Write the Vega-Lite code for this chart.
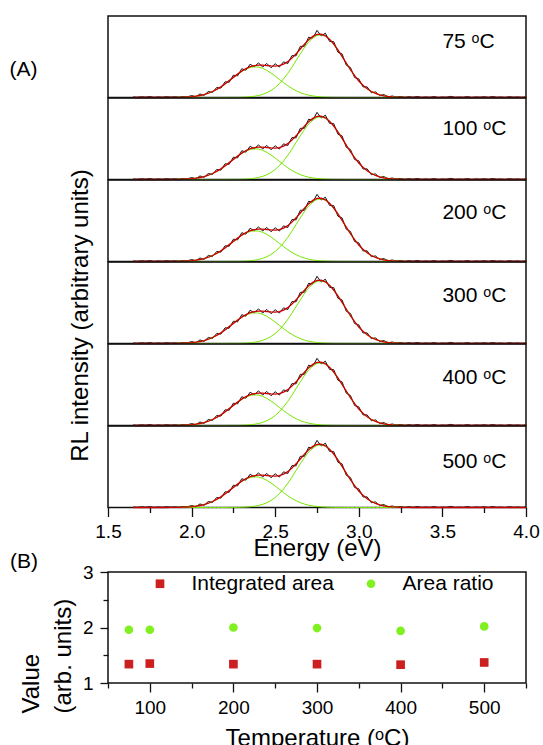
{
"$schema": "https://vega.github.io/schema/vega-lite/v6.json",
"padding": {"left": 8, "top": 15, "right": 10, "bottom": 0},
"background": "white",
"spacing": 0,
"bounds": "flush",
"resolve": {"legend": {"color": "independent", "shape": "independent"}},
"datasets": {
"spec": [
{"E":1.65,"g1":0,"g2":0,"fit":0,"obs":0.008},
{"E":1.675,"g1":0,"g2":0,"fit":0,"obs":0.004},
{"E":1.7,"g1":0,"g2":0,"fit":0,"obs":0.012},
{"E":1.725,"g1":0,"g2":0,"fit":0,"obs":0.006},
{"E":1.75,"g1":0,"g2":0,"fit":0,"obs":0.015},
{"E":1.775,"g1":0,"g2":0,"fit":0,"obs":0.003},
{"E":1.8,"g1":0,"g2":0,"fit":0,"obs":0.010},
{"E":1.825,"g1":0,"g2":0,"fit":0,"obs":0.005},
{"E":1.85,"g1":0,"g2":0,"fit":0,"obs":0.013},
{"E":1.875,"g1":0.001,"g2":0,"fit":0.001,"obs":0.007},
{"E":1.9,"g1":0.002,"g2":0,"fit":0.002,"obs":0.012},
{"E":1.925,"g1":0.003,"g2":0,"fit":0.003,"obs":0.006},
{"E":1.95,"g1":0.005,"g2":0,"fit":0.005,"obs":0.016},
{"E":1.975,"g1":0.008,"g2":0,"fit":0.008,"obs":0.011},
{"E":2.0,"g1":0.013,"g2":0,"fit":0.013,"obs":0.031},
{"E":2.025,"g1":0.021,"g2":0,"fit":0.021,"obs":0.011},
{"E":2.05,"g1":0.032,"g2":0,"fit":0.032,"obs":0.057},
{"E":2.075,"g1":0.047,"g2":0,"fit":0.047,"obs":0.035},
{"E":2.1,"g1":0.068,"g2":0,"fit":0.068,"obs":0.096},
{"E":2.125,"g1":0.096,"g2":0,"fit":0.096,"obs":0.081},
{"E":2.15,"g1":0.130,"g2":0,"fit":0.130,"obs":0.160},
{"E":2.175,"g1":0.170,"g2":0,"fit":0.170,"obs":0.150},
{"E":2.2,"g1":0.217,"g2":0,"fit":0.217,"obs":0.250},
{"E":2.225,"g1":0.268,"g2":0.001,"fit":0.269,"obs":0.244},
{"E":2.25,"g1":0.320,"g2":0.001,"fit":0.321,"obs":0.356},
{"E":2.275,"g1":0.371,"g2":0.002,"fit":0.373,"obs":0.345},
{"E":2.3,"g1":0.417,"g2":0.004,"fit":0.421,"obs":0.459},
{"E":2.325,"g1":0.454,"g2":0.007,"fit":0.461,"obs":0.436},
{"E":2.35,"g1":0.479,"g2":0.012,"fit":0.491,"obs":0.531},
{"E":2.375,"g1":0.490,"g2":0.020,"fit":0.510,"obs":0.488},
{"E":2.4,"g1":0.485,"g2":0.032,"fit":0.517,"obs":0.553},
{"E":2.425,"g1":0.466,"g2":0.050,"fit":0.516,"obs":0.486},
{"E":2.45,"g1":0.433,"g2":0.076,"fit":0.509,"obs":0.543},
{"E":2.475,"g1":0.391,"g2":0.112,"fit":0.503,"obs":0.475},
{"E":2.5,"g1":0.341,"g2":0.160,"fit":0.501,"obs":0.539},
{"E":2.525,"g1":0.289,"g2":0.221,"fit":0.510,"obs":0.486},
{"E":2.55,"g1":0.237,"g2":0.296,"fit":0.533,"obs":0.569},
{"E":2.575,"g1":0.188,"g2":0.384,"fit":0.572,"obs":0.542},
{"E":2.6,"g1":0.145,"g2":0.483,"fit":0.628,"obs":0.668},
{"E":2.625,"g1":0.108,"g2":0.589,"fit":0.697,"obs":0.665},
{"E":2.65,"g1":0.078,"g2":0.696,"fit":0.774,"obs":0.816},
{"E":2.675,"g1":0.055,"g2":0.797,"fit":0.852,"obs":0.817},
{"E":2.7,"g1":0.037,"g2":0.884,"fit":0.921,"obs":0.961},
{"E":2.725,"g1":0.025,"g2":0.950,"fit":0.975,"obs":0.945},
{"E":2.75,"g1":0.016,"g2":0.990,"fit":1.006,"obs":1.071},
{"E":2.775,"g1":0.010,"g2":0.999,"fit":1.009,"obs":0.981},
{"E":2.8,"g1":0.006,"g2":0.978,"fit":0.984,"obs":1.026},
{"E":2.825,"g1":0.003,"g2":0.927,"fit":0.930,"obs":0.895},
{"E":2.85,"g1":0.002,"g2":0.851,"fit":0.853,"obs":0.891},
{"E":2.875,"g1":0.001,"g2":0.758,"fit":0.759,"obs":0.723},
{"E":2.9,"g1":0.001,"g2":0.654,"fit":0.655,"obs":0.695},
{"E":2.925,"g1":0,"g2":0.547,"fit":0.547,"obs":0.515},
{"E":2.95,"g1":0,"g2":0.443,"fit":0.443,"obs":0.479},
{"E":2.975,"g1":0,"g2":0.348,"fit":0.348,"obs":0.318},
{"E":3.0,"g1":0,"g2":0.264,"fit":0.264,"obs":0.298},
{"E":3.025,"g1":0,"g2":0.195,"fit":0.195,"obs":0.169},
{"E":3.05,"g1":0,"g2":0.139,"fit":0.139,"obs":0.169},
{"E":3.075,"g1":0,"g2":0.096,"fit":0.096,"obs":0.076},
{"E":3.1,"g1":0,"g2":0.065,"fit":0.065,"obs":0.089},
{"E":3.125,"g1":0,"g2":0.042,"fit":0.042,"obs":0.030},
{"E":3.15,"g1":0,"g2":0.027,"fit":0.027,"obs":0.047},
{"E":3.175,"g1":0,"g2":0.016,"fit":0.016,"obs":0.010},
{"E":3.2,"g1":0,"g2":0.010,"fit":0.010,"obs":0.024},
{"E":3.225,"g1":0,"g2":0.006,"fit":0.006,"obs":0.008},
{"E":3.25,"g1":0,"g2":0.003,"fit":0.003,"obs":0.016},
{"E":3.275,"g1":0,"g2":0.002,"fit":0.002,"obs":0.004},
{"E":3.3,"g1":0,"g2":0.001,"fit":0.001,"obs":0.013},
{"E":3.325,"g1":0,"g2":0,"fit":0,"obs":0.005},
{"E":3.35,"g1":0,"g2":0,"fit":0,"obs":0.016},
{"E":3.375,"g1":0,"g2":0,"fit":0,"obs":0.003},
{"E":3.4,"g1":0,"g2":0,"fit":0,"obs":0.009},
{"E":3.425,"g1":0,"g2":0,"fit":0,"obs":0.004},
{"E":3.45,"g1":0,"g2":0,"fit":0,"obs":0.014},
{"E":3.475,"g1":0,"g2":0,"fit":0,"obs":0.002},
{"E":3.5,"g1":0,"g2":0,"fit":0,"obs":0.008},
{"E":3.525,"g1":0,"g2":0,"fit":0,"obs":0.005},
{"E":3.55,"g1":0,"g2":0,"fit":0,"obs":0.018},
{"E":3.575,"g1":0,"g2":0,"fit":0,"obs":0.003},
{"E":3.6,"g1":0,"g2":0,"fit":0,"obs":0.007},
{"E":3.625,"g1":0,"g2":0,"fit":0,"obs":0.004},
{"E":3.65,"g1":0,"g2":0,"fit":0,"obs":0.015},
{"E":3.675,"g1":0,"g2":0,"fit":0,"obs":0.002},
{"E":3.7,"g1":0,"g2":0,"fit":0,"obs":0.009},
{"E":3.725,"g1":0,"g2":0,"fit":0,"obs":0.005},
{"E":3.75,"g1":0,"g2":0,"fit":0,"obs":0.012},
{"E":3.775,"g1":0,"g2":0,"fit":0,"obs":0.003},
{"E":3.8,"g1":0,"g2":0,"fit":0,"obs":0.016},
{"E":3.825,"g1":0,"g2":0,"fit":0,"obs":0.004},
{"E":3.85,"g1":0,"g2":0,"fit":0,"obs":0.008},
{"E":3.875,"g1":0,"g2":0,"fit":0,"obs":0.002},
{"E":3.9,"g1":0,"g2":0,"fit":0,"obs":0.013},
{"E":3.925,"g1":0,"g2":0,"fit":0,"obs":0.005},
{"E":3.95,"g1":0,"g2":0,"fit":0,"obs":0.009},
{"E":3.975,"g1":0,"g2":0,"fit":0,"obs":0.003},
{"E":4.0,"g1":0,"g2":0,"fit":0,"obs":0.010}
]
},
"vconcat": [
{"width":418,"height":81.5,"data":{"name":"spec"},
 "encoding":{"x":{"field":"E","type":"quantitative","scale":{"domain":[1.5,4]},"axis":null}},
 "layer":[
  {"mark":{"type":"line","color":"#111","strokeWidth":1},"encoding":{"y":{"field":"obs","type":"quantitative","scale":{"domain":[0,1.27]},"axis":{"title":"(A)","titleAngle":0,"titleAlign":"center","titleBaseline":"middle","titleX":-85,"titleY":53.5,"titleFontSize":21,"labels":false,"ticks":false,"domain":false}}}},
  {"mark":{"type":"line","color":"#77e600","strokeWidth":1},"encoding":{"y":{"field":"g1","type":"quantitative"}}},
  {"mark":{"type":"line","color":"#77e600","strokeWidth":1},"encoding":{"y":{"field":"g2","type":"quantitative"}}},
  {"mark":{"type":"line","color":"#cc0000","strokeWidth":1.3},"encoding":{"y":{"field":"fit","type":"quantitative"}}},
  {"transform":[{"filter":"datum.E === 3.5"}],"mark":{"type":"text","fontSize":21,"align":"left","baseline":"middle","color":"#000"},
   "encoding":{"y":{"datum":0.89,"type":"quantitative"},"text":{"value":"75 ᵒC"}}}
 ]},
{"width":418,"height":81.5,"data":{"name":"spec"},
 "encoding":{"x":{"field":"E","type":"quantitative","scale":{"domain":[1.5,4]},"axis":null}},
 "layer":[
  {"mark":{"type":"line","color":"#111","strokeWidth":1},"encoding":{"y":{"field":"obs","type":"quantitative","scale":{"domain":[0,1.27]},"axis":null}}},
  {"mark":{"type":"line","color":"#77e600","strokeWidth":1},"encoding":{"y":{"field":"g1","type":"quantitative","axis":null}}},
  {"mark":{"type":"line","color":"#77e600","strokeWidth":1},"encoding":{"y":{"field":"g2","type":"quantitative","axis":null}}},
  {"mark":{"type":"line","color":"#cc0000","strokeWidth":1.3},"encoding":{"y":{"field":"fit","type":"quantitative","axis":null}}},
  {"transform":[{"filter":"datum.E === 3.5"}],"mark":{"type":"text","fontSize":21,"align":"left","baseline":"middle","color":"#000"},
   "encoding":{"y":{"datum":0.80,"type":"quantitative","axis":null},"text":{"value":"100 ᵒC"}}}
 ]},
{"width":418,"height":81.5,"data":{"name":"spec"},
 "encoding":{"x":{"field":"E","type":"quantitative","scale":{"domain":[1.5,4]},"axis":null}},
 "layer":[
  {"mark":{"type":"line","color":"#111","strokeWidth":1},"encoding":{"y":{"field":"obs","type":"quantitative","scale":{"domain":[0,1.27]},"axis":null}}},
  {"mark":{"type":"line","color":"#77e600","strokeWidth":1},"encoding":{"y":{"field":"g1","type":"quantitative","axis":null}}},
  {"mark":{"type":"line","color":"#77e600","strokeWidth":1},"encoding":{"y":{"field":"g2","type":"quantitative","axis":null}}},
  {"mark":{"type":"line","color":"#cc0000","strokeWidth":1.3},"encoding":{"y":{"field":"fit","type":"quantitative","axis":null}}},
  {"transform":[{"filter":"datum.E === 3.5"}],"mark":{"type":"text","fontSize":21,"align":"left","baseline":"middle","color":"#000"},
   "encoding":{"y":{"datum":0.78,"type":"quantitative","axis":null},"text":{"value":"200 ᵒC"}}}
 ]},
{"width":418,"height":81.5,"data":{"name":"spec"},
 "encoding":{"x":{"field":"E","type":"quantitative","scale":{"domain":[1.5,4]},"axis":null}},
 "layer":[
  {"mark":{"type":"line","color":"#111","strokeWidth":1},"encoding":{"y":{"field":"obs","type":"quantitative","scale":{"domain":[0,1.27]},"axis":{"title":"RL intensity (arbitrary units)","titleAngle":-90,"titleAlign":"center","titleBaseline":"middle","titleX":-28,"titleY":53,"labels":false,"ticks":false,"domain":false}}}},
  {"mark":{"type":"line","color":"#77e600","strokeWidth":1},"encoding":{"y":{"field":"g1","type":"quantitative"}}},
  {"mark":{"type":"line","color":"#77e600","strokeWidth":1},"encoding":{"y":{"field":"g2","type":"quantitative"}}},
  {"mark":{"type":"line","color":"#cc0000","strokeWidth":1.3},"encoding":{"y":{"field":"fit","type":"quantitative"}}},
  {"transform":[{"filter":"datum.E === 3.5"}],"mark":{"type":"text","fontSize":21,"align":"left","baseline":"middle","color":"#000"},
   "encoding":{"y":{"datum":0.76,"type":"quantitative"},"text":{"value":"300 ᵒC"}}}
 ]},
{"width":418,"height":81.5,"data":{"name":"spec"},
 "encoding":{"x":{"field":"E","type":"quantitative","scale":{"domain":[1.5,4]},"axis":null}},
 "layer":[
  {"mark":{"type":"line","color":"#111","strokeWidth":1},"encoding":{"y":{"field":"obs","type":"quantitative","scale":{"domain":[0,1.27]},"axis":null}}},
  {"mark":{"type":"line","color":"#77e600","strokeWidth":1},"encoding":{"y":{"field":"g1","type":"quantitative","axis":null}}},
  {"mark":{"type":"line","color":"#77e600","strokeWidth":1},"encoding":{"y":{"field":"g2","type":"quantitative","axis":null}}},
  {"mark":{"type":"line","color":"#cc0000","strokeWidth":1.3},"encoding":{"y":{"field":"fit","type":"quantitative","axis":null}}},
  {"transform":[{"filter":"datum.E === 3.5"}],"mark":{"type":"text","fontSize":21,"align":"left","baseline":"middle","color":"#000"},
   "encoding":{"y":{"datum":0.75,"type":"quantitative","axis":null},"text":{"value":"400 ᵒC"}}}
 ]},
{"width":418,"height":81.5,"data":{"name":"spec"},
 "encoding":{"x":{"field":"E","type":"quantitative","scale":{"domain":[1.5,4]},
   "axis":{"values":[1.5,1.75,2,2.25,2.5,2.75,3,3.25,3.5,3.75,4],"format":".1f",
     "labelExpr":"abs(datum.value*2-round(datum.value*2))<0.01 ? datum.label : ''",
     "tickSize":{"condition":{"test":"abs(datum.value*2-round(datum.value*2))<0.01","value":9},"value":5},
     "labelPadding":6,"labelOverlap":false,"labelFlush":false,"domain":false,"title":"Energy (eV)","titleY":48,"titleBaseline":"alphabetic"}}},
 "layer":[
  {"mark":{"type":"line","color":"#111","strokeWidth":1},"encoding":{"y":{"field":"obs","type":"quantitative","scale":{"domain":[0,1.27]},"axis":null}}},
  {"mark":{"type":"line","color":"#77e600","strokeWidth":1},"encoding":{"y":{"field":"g1","type":"quantitative","axis":null}}},
  {"mark":{"type":"line","color":"#77e600","strokeWidth":1},"encoding":{"y":{"field":"g2","type":"quantitative","axis":null}}},
  {"mark":{"type":"line","color":"#cc0000","strokeWidth":1.3},"encoding":{"y":{"field":"fit","type":"quantitative","axis":null}}},
  {"transform":[{"filter":"datum.E === 3.5"}],"mark":{"type":"text","fontSize":21,"align":"left","baseline":"middle","color":"#000"},
   "encoding":{"y":{"datum":0.73,"type":"quantitative","axis":null},"text":{"value":"500 ᵒC"}}}
 ]},
{"width":418,"height":64,"data":{"values":[]},"mark":"point","view":{"stroke":null}},
{"width":418,"height":111,
 "title":{"text":"(B)","anchor":"start","frame":"group","dx":-98,"fontSize":21,"fontWeight":"normal","offset":-26,"baseline":"alphabetic","color":"#000"},
 "data":{"values":[
  {"T":75,"series":"Integrated area","value":1.34},
  {"T":100,"series":"Integrated area","value":1.35},
  {"T":200,"series":"Integrated area","value":1.34},
  {"T":300,"series":"Integrated area","value":1.34},
  {"T":400,"series":"Integrated area","value":1.33},
  {"T":500,"series":"Integrated area","value":1.37},
  {"T":75,"series":"Area ratio","value":1.96},
  {"T":100,"series":"Area ratio","value":1.96},
  {"T":200,"series":"Area ratio","value":2.00},
  {"T":300,"series":"Area ratio","value":1.99},
  {"T":400,"series":"Area ratio","value":1.94},
  {"T":500,"series":"Area ratio","value":2.02}
 ]},
 "mark":{"type":"point","filled":true,"opacity":1,"size":75},
 "encoding":{
  "x":{"field":"T","type":"quantitative","scale":{"domain":[50,550]},
   "axis":{"values":[50,100,150,200,250,300,350,400,450,500,550],"format":"d",
     "labelExpr":"datum.value % 100 === 0 ? datum.label : ''",
     "tickSize":{"condition":{"test":"datum.value % 100 === 0","value":9},"value":5},
     "labelPadding":6,"labelOverlap":false,"labelFlush":false,"domain":false,"title":"Temperature (ᵒC)","titleY":62,"titleBaseline":"alphabetic"}},
  "y":{"field":"value","type":"quantitative","scale":{"domain":[1,3]},
   "axis":{"values":[1,1.5,2,2.5,3],
     "labelExpr":"datum.value % 1 === 0 ? format(datum.value, 'd') : ''",
     "tickSize":{"condition":{"test":"datum.value % 1 === 0","value":8},"value":5},
     "labelPadding":7,"labelOverlap":false,"labelFlush":false,"domain":false,"title":["Value","\u00a0\u00a0\u00a0(arb. units)"],"titleAngle":-90,"titleAlign":"left","titleBaseline":"alphabetic","titleX":-70,"titleY":141,"titleLineHeight":32}},
  "color":{"field":"series","type":"nominal","scale":{"domain":["Integrated area","Area ratio"],"range":["#cc1f1f","#80f020"]},
   "legend":{"orient":"none","legendX":41.5,"legendY":1,"direction":"horizontal","title":null,"labelFontSize":21,"labelOffset":21,"columnPadding":26,"padding":0,"symbolSize":75,"symbolStrokeWidth":0,"labelColor":"#000"}},
  "shape":{"field":"series","type":"nominal","scale":{"domain":["Integrated area","Area ratio"],"range":["square","circle"]}}
 }}
],
"config": {
 "font": "Liberation Sans",
 "view": {"stroke": "#111", "strokeWidth": 1.5},
 "axis": {"domainColor":"#111","domainWidth":1.5,"tickColor":"#111","tickWidth":1.3,"labelColor":"#000","labelFontSize":19,"titleFontSize":24,"titleFontWeight":"normal","titleColor":"#000","grid":false,"labelFlush":false,"labelOverlap":false}
}
}
